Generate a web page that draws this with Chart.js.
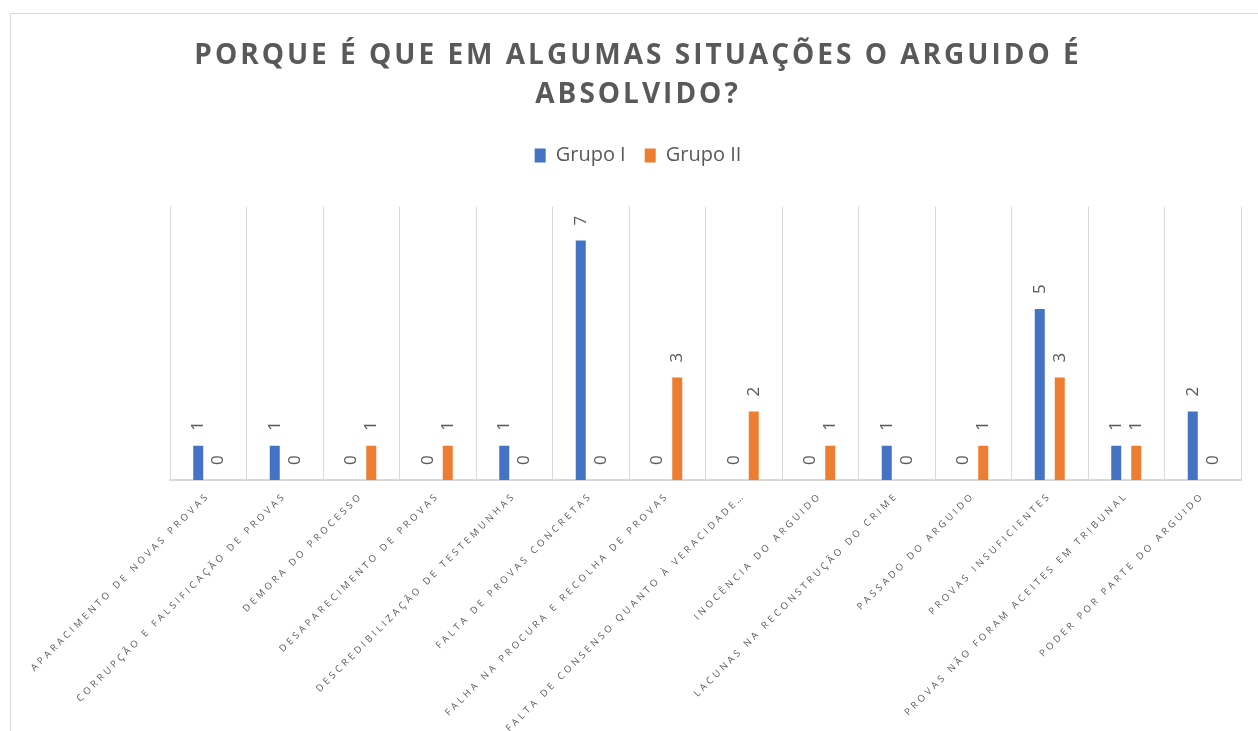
<!DOCTYPE html>
<html lang="pt">
<head>
<meta charset="utf-8">
<title>Porque é que em algumas situações o arguido é absolvido?</title>
<script src="https://cdn.jsdelivr.net/npm/chart.js@4.4.1/dist/chart.umd.min.js"></script>
<style>
    html, body { margin: 0; padding: 0; background: #fff; overflow: hidden; width: 1258px; height: 731px; }
    .frame { position: absolute; left: 10px; top: 13px; width: 1400px; height: 900px; border: 1px solid #d9d9d9; }
    #grafico { position: absolute; left: 11px; top: 14px; }
</style>
</head>
<body>
<div class="frame"></div>
<canvas id="grafico" width="1254" height="717"></canvas>
<script>
const tituloLinhas = ["PORQUE É QUE EM ALGUMAS SITUAÇÕES O ARGUIDO É", "ABSOLVIDO?"];

const categorias = [
    "APARACIMENTO DE NOVAS PROVAS",
    "CORRUPÇÃO E FALSIFICAÇÃO DE PROVAS",
    "DEMORA DO PROCESSO",
    "DESAPARECIMENTO DE PROVAS",
    "DESCREDIBILIZAÇÃO DE TESTEMUNHAS",
    "FALTA DE PROVAS CONCRETAS",
    "FALHA NA PROCURA E RECOLHA DE PROVAS",
    "FALTA DE CONSENSO QUANTO À VERACIDADE…",
    "INOCÊNCIA DO ARGUIDO",
    "LACUNAS NA RECONSTRUÇÃO DO CRIME",
    "PASSADO DO ARGUIDO",
    "PROVAS INSUFICIENTES",
    "PROVAS NÃO FORAM ACEITES EM TRIBUNAL",
    "PODER POR PARTE DO ARGUIDO"
];

const grupoI  = [1, 1, 0, 0, 1, 7, 0, 0, 0, 1, 0, 5, 1, 2];
const grupoII = [0, 0, 1, 1, 0, 0, 3, 2, 1, 0, 1, 3, 1, 0];

const CINZA = '#595959';

document.addEventListener("DOMContentLoaded", function () {

    // eixo de categorias com espaçamento entre letras nos rótulos
    class SpacedCategoryScale extends Chart.CategoryScale {
        drawLabels(area) {
            const ctx = this.ctx;
            ctx.save();
            ctx.letterSpacing = '3.2px';
            super.drawLabels(area);
            ctx.restore();
        }
    }
    SpacedCategoryScale.id = 'spacedCategory';
    SpacedCategoryScale.defaults = Chart.CategoryScale.defaults;
    Chart.register(SpacedCategoryScale);

    // título espaçado + espaço extra por baixo da legenda
    const ajustes = {
        id: 'ajustes',
        afterInit(chart) {
            const legend = chart.legend;
            const fit = legend.fit;
            legend.fit = function () {
                fit.call(this);
                this.height = 80;
            };
            const title = chart.titleBlock;
            const draw = title.draw;
            title.draw = function () {
                chart.ctx.save();
                chart.ctx.letterSpacing = '3px';
                draw.call(this);
                chart.ctx.restore();
            };
        }
    };

    // valores por cima das barras, rodados
    const valores = {
        id: 'valores',
        afterDatasetsDraw(chart) {
            const ctx = chart.ctx;
            ctx.save();
            ctx.font = '17px "Open Sans"';
            ctx.fillStyle = CINZA;
            ctx.textAlign = 'left';
            ctx.textBaseline = 'middle';
            chart.data.datasets.forEach((ds, i) => {
                chart.getDatasetMeta(i).data.forEach((bar, j) => {
                    ctx.save();
                    ctx.translate(bar.x, bar.y - 15);
                    ctx.rotate(-Math.PI / 2);
                    ctx.fillText(String(ds.data[j]), 0, 0);
                    ctx.restore();
                });
            });
            ctx.restore();
        }
    };

    const ctx = document.getElementById('grafico').getContext('2d');
    new Chart(ctx, {
        type: 'bar',
        data: {
            labels: categorias,
            datasets: [
                { label: 'Grupo I', data: grupoI, backgroundColor: '#4472C4' },
                { label: 'Grupo II', data: grupoII, backgroundColor: '#ED7D31' }
            ]
        },
        options: {
            responsive: false,
            animation: false,
            categoryPercentage: 0.523,
            barPercentage: 0.5,
            layout: { padding: 0 },
            scales: {
                x: {
                    type: 'spacedCategory',
                    offset: true,
                    grid: { display: true, offset: true, color: '#d9d9d9', lineWidth: 1, drawTicks: false },
                    border: { display: true, color: '#d9d9d9', width: 2 },
                    ticks: {
                        autoSkip: false,
                        minRotation: 45,
                        maxRotation: 45,
                        padding: 10,
                        color: CINZA,
                        font: { family: 'Open Sans', size: 9.5 }
                    },
                    afterFit(scale) {
                        scale.height = 251;
                        scale.paddingLeft = 159;
                        scale.paddingRight = 24;
                    }
                },
                y: {
                    display: false,
                    min: 0,
                    max: 8
                }
            },
            plugins: {
                title: {
                    display: true,
                    text: tituloLinhas,
                    color: CINZA,
                    font: { family: 'Open Sans', size: 28, weight: 'bold', lineHeight: 1.4 },
                    padding: { top: 22, bottom: 12 }
                },
                legend: {
                    position: 'top',
                    labels: {
                        color: CINZA,
                        boxWidth: 11,
                        boxHeight: 14,
                        padding: 19,
                        font: { family: 'Open Sans', size: 20 }
                    }
                },
                tooltip: { enabled: false }
            }
        },
        plugins: [ajustes, valores]
    });
});
</script>
</body>
</html>
